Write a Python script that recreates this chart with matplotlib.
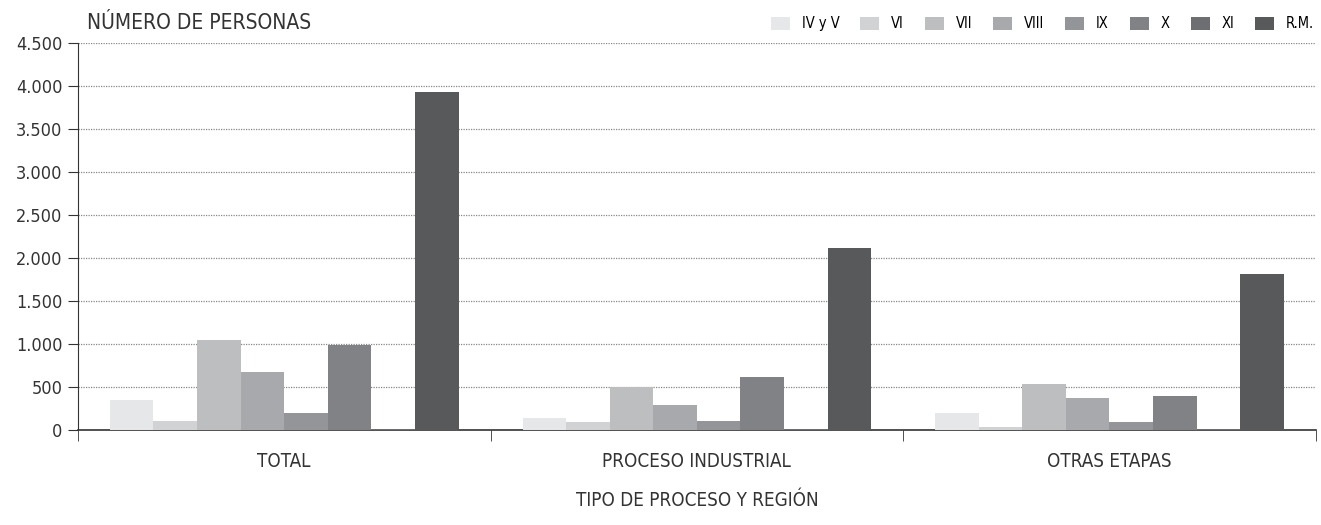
import matplotlib.pyplot as plt
import numpy as np

plt.rcParams['font.family'] = ['DejaVu Sans']
plt.rcParams['font.stretch'] = 'condensed'

categorias = ["TOTAL", "PROCESO INDUSTRIAL", "OTRAS ETAPAS"]
regiones = ["IV y V", "VI", "VII", "VIII", "IX", "X", "XI", "R.M."]
colores = ["#e6e7e8", "#d1d2d4", "#bcbec0", "#a7a9ac", "#939598", "#808285", "#6d6e71", "#58595b"]

# valores por region: [TOTAL, PROCESO INDUSTRIAL, OTRAS ETAPAS]
valores = {
    "IV y V": [349, 140, 198],
    "VI": [105, 93, 35],
    "VII": [1047, 504, 535],
    "VIII": [674, 291, 372],
    "IX": [198, 105, 93],
    "X": [985, 616, 395],
    "XI": [12, 12, 12],
    "R.M.": [3935, 2120, 1815],
}

fig = plt.figure(figsize=(13.21, 5.25), dpi=100)
ax = fig.add_axes([0.059, 0.181, 0.937, 0.737])

x = np.arange(len(categorias))
w = 0.845 / len(regiones)
for i, r in enumerate(regiones):
    ax.bar(x - 0.4225 + w * (i + 0.5), valores[r], w, color=colores[i], label=r, zorder=3)

ax.set_xlim(-0.5, 2.5)
ax.set_ylim(0, 4500)
yt = np.arange(0, 4501, 500)
ax.set_yticks(yt)
ax.set_yticklabels([f"{v:,}".replace(",", ".") for v in yt], fontsize=13, color="#333333")
ax.yaxis.grid(True, linestyle=(0, (1, 1)), color="#888888", linewidth=0.9, zorder=0)

ax.set_xticks(x)
ax.set_xticklabels(categorias, fontsize=13.5, color="#333333")
ax.tick_params(axis="x", which="major", length=0, pad=16)
ax.set_xticks([-0.5, 0.5, 1.5, 2.5], minor=True)
ax.tick_params(axis="x", which="minor", length=8, direction="out", color="#333333")
ax.tick_params(axis="y", length=7, color="#333333", pad=4)

for s in ["top", "right"]:
    ax.spines[s].set_visible(False)
ax.spines["left"].set_color("#333333")
ax.spines["bottom"].set_color("#333333")
ax.spines["bottom"].set_linewidth(1.2)

ax.set_xlabel("TIPO DE PROCESO Y REGIÓN", fontsize=13.5, color="#333333", labelpad=14)
fig.text(0.066, 0.957, "NÚMERO DE PERSONAS", fontsize=15, color="#333333", va="center")

fig.legend(loc="center right", bbox_to_anchor=(0.999, 0.955), ncol=8, frameon=False,
           fontsize=10.5, handlelength=1.3, handleheight=1.0, handletextpad=0.8,
           columnspacing=1.45, borderaxespad=0)

fig.savefig("out.png", dpi=100)
